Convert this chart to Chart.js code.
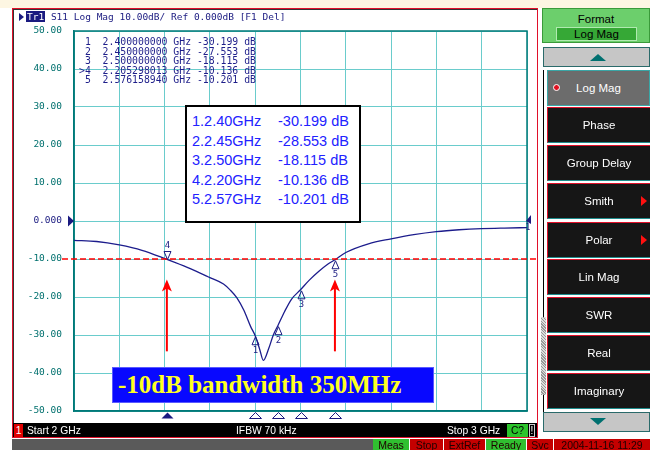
<!DOCTYPE html>
<html>
<head>
<meta charset="utf-8">
<script src="https://cdn.jsdelivr.net/npm/chart.js@4.4.1/dist/chart.umd.min.js"></script>
<style>
body{margin:0;width:650px;height:450px;overflow:hidden;background:#fff;position:relative;font-family:'Liberation Sans',Arial,sans-serif}
#topstrip{position:absolute;left:0;top:0;width:650px;height:8px;background:#fdf6e2}
#win{position:absolute;left:12px;top:8px;width:524px;height:428px;border:1px solid #e0102a;box-shadow:inset 1px 1px 0 #333;background:#fff}
#chart{position:absolute;left:0;top:0;z-index:1}
.ov{position:absolute;z-index:2}
#title{left:19px;top:11px;font:9.5px 'DejaVu Sans Mono',monospace;color:#1a1a80;line-height:12px;white-space:pre}
#title .tri{display:inline-block;width:0;height:0;border-top:4px solid transparent;border-bottom:4px solid transparent;border-left:5px solid #1a1a80;vertical-align:-1px;margin-right:2px}
#title .tr{background:#1a1a80;color:#fff;padding:0 1px}
#mlist{left:79px;top:37px;margin:0;font:9.8px 'DejaVu Sans Mono',monospace;line-height:9.6px;color:#1e1e8a}
#mtable{left:185px;top:105px;width:176px;height:118px;border:2px solid #000;box-sizing:border-box;background:#fff;font:14.5px 'Liberation Sans',Arial,sans-serif;color:#2222ff;line-height:19.5px}
#mtable div{position:absolute}
#bw{left:112px;top:367px;width:322px;height:36px;box-sizing:border-box;background:#0808ff;border:1px solid #5a5aff;color:#ffff22;font:bold 25px 'Liberation Serif','Times New Roman',serif;line-height:34px;padding-left:5px;white-space:nowrap}
#sbar{left:13px;top:423px;width:524px;height:14px;background:#000}
.st{position:absolute;z-index:3;font-size:10.3px;line-height:13px;height:13px;white-space:nowrap}
#bbar{left:12px;top:439px;width:361px;height:11px;background:#5a5a5a}
.bb{position:absolute;z-index:3;top:439px;height:11px;font-size:10.5px;line-height:12px;text-align:center;color:#200000;overflow:hidden}
.btn{position:absolute;z-index:2;left:547px;width:103px;height:36px;box-sizing:border-box;background:#161616;border-top:1px solid #e0102a;border-left:1px solid #e0102a;border-bottom:1px solid #1e8c8c;color:#fff;font-size:11.5px;line-height:34px;text-align:center}
.btn.sel{background:#6c6c6c;border:1px solid #3aa6a6}
.btn .arr{position:absolute;right:3px;top:12px;width:0;height:0;border-top:5px solid transparent;border-bottom:5px solid transparent;border-left:6px solid #ff1010}
.btn .dot{position:absolute;left:5px;top:13px;width:5px;height:5px;border-radius:50%;background:#e01020;border:1px solid #fff}
#fmt{left:542px;top:8px;width:108px;height:35px;box-sizing:border-box;background:#6ccf6c;border:1px solid #3a9a3a;font-size:11.5px;text-align:center;line-height:20px;color:#000}
#fmt div{position:absolute;left:13px;top:18px;width:81px;height:14px;box-sizing:border-box;background:#36a836;border:1px solid #b0eab0;line-height:12px}
.scr{position:absolute;z-index:2;left:543px;width:107px;height:20px;box-sizing:border-box;background:#c6c6c6;border:1px solid #2a6a6a}
.scr i{position:absolute;left:46px;width:0;height:0;border-left:8px solid transparent;border-right:8px solid transparent}
#vline{left:543px;top:70px;width:1px;height:342px;background:#000}
#sb2{left:541px;top:317px;width:5px;height:78px;background:repeating-linear-gradient(45deg,#999 0 1px,#ddd 1px 2px)}
</style>
</head>
<body>
<div id="topstrip"></div>
<div id="win"></div>
<canvas id="chart" width="650" height="450"></canvas>

<div class="ov" id="title"><span class="tri"></span><span class="tr">Tr1</span> S11 Log Mag 10.00dB/ Ref 0.000dB [F1 Del]</div>
<pre class="ov" id="mlist"></pre>
<div class="ov" id="mtable"></div>
<div class="ov" id="bw">-10dB bandwidth 350MHz</div>

<div class="ov" id="sbar"></div>
<div class="st" style="left:14px;top:424px;width:9px;background:#e00000;color:#fff;text-align:center">1</div>
<div class="st" style="left:27px;top:424px;color:#fff">Start 2 GHz</div>
<div class="st" style="left:236px;top:424px;color:#fff">IFBW 70 kHz</div>
<div class="st" style="left:447px;top:424px;color:#fff">Stop 3 GHz</div>
<div class="st" style="left:507px;top:424px;width:21px;background:#2cc42c;color:#000;text-align:center">C?</div>
<div class="st" style="left:529px;top:424px;width:6px;box-sizing:border-box;border:1px solid #ccc;color:#fff;text-align:center;font-size:10px;line-height:11px">!</div>

<div class="ov" id="bbar"></div>
<div class="bb" style="left:373px;width:36px;background:#30c030">Meas</div>
<div class="bb" style="left:410px;width:33px;background:#c40000">Stop</div>
<div class="bb" style="left:444px;width:41px;background:#c40000">ExtRef</div>
<div class="bb" style="left:486px;width:40px;background:#30c030">Ready</div>
<div class="bb" style="left:527px;width:26px;background:#c40000">Svc</div>
<div class="bb" style="left:554px;width:96px;background:#c40000">2004-11-16 11:29</div>

<div class="ov" id="fmt">Format<div>Log Mag</div></div>
<div class="scr" style="top:47px"><i style="top:6px;border-bottom:7px solid #007070"></i></div>
<div class="ov" id="vline"></div>
<div class="ov" id="sb2"></div>
<div class="btn sel" style="top:70px"><span class="dot"></span>Log Mag</div>
<div class="btn" style="top:107px">Phase</div>
<div class="btn" style="top:145px">Group Delay</div>
<div class="btn" style="top:183px">Smith<span class="arr"></span></div>
<div class="btn" style="top:222px">Polar<span class="arr"></span></div>
<div class="btn" style="top:259px">Lin Mag</div>
<div class="btn" style="top:297px">SWR</div>
<div class="btn" style="top:335px">Real</div>
<div class="btn" style="top:373px">Imaginary</div>
<div class="scr" style="top:412px"><i style="top:5px;border-top:7px solid #007070"></i></div>

<script>
// S11 trace (GHz, dB)
const freqs = [2.000, 2.050, 2.100, 2.150, 2.205, 2.250, 2.300, 2.330, 2.345, 2.360, 2.375, 2.390,
               2.400, 2.410, 2.418, 2.430, 2.440, 2.450, 2.465, 2.480, 2.500, 2.520, 2.540, 2.560,
               2.576, 2.600, 2.650, 2.700, 2.750, 2.800, 2.850, 2.900, 2.950, 3.000];
const s11 = [-5.1, -5.4, -6.3, -7.7, -10.1, -12.2, -14.9, -16.6, -18.2, -20.3, -23.5, -27.8,
             -30.2, -33.8, -36.7, -33.5, -30.0, -27.55, -23.8, -20.6, -18.1, -15.5, -13.3, -11.4,
             -10.2, -8.3, -6.0, -4.7, -3.6, -2.8, -2.3, -2.0, -1.85, -1.75];

// markers
const mkFreq = [2.4, 2.45, 2.5, 2.205298013, 2.576158940];
const mkVal = [-30.199, -27.553, -18.115, -10.136, -10.201];
const mkNum = ['1', '2', '3', '4', '5'];
const activeMk = 3;

// marker readout lines (top left) and the boxed table
const listRows = [' 1  2.400000000 GHz -30.199 dB',
                  ' 2  2.450000000 GHz -27.553 dB',
                  ' 3  2.500000000 GHz -18.115 dB',
                  '>4  2.205298013 GHz -10.136 dB',
                  ' 5  2.576158940 GHz -10.201 dB'];
const tableFreq = ['1.2.40GHz', '2.2.45GHz', '3.2.50GHz', '4.2.20GHz', '5.2.57GHz'];
const tableVal = ['-30.199 dB', '-28.553 dB', '-18.115 dB', '-10.136 dB', '-10.201 dB'];

const xMin = 2, xMax = 3, xStep = 0.1;
const yMin = -50, yMax = 50, yStep = 10;
const limitDb = -10;
const arrowFreq = [2.205, 2.576];
const arrowFrom = -34.3, arrowTo = -15.4;

document.getElementById('mlist').textContent = listRows.join('\n');
let th = '';
for (let i = 0; i < tableFreq.length; i++) {
    let top = 5 + i * 19.5;
    th += '<div style="left:5px;top:' + top + 'px">' + tableFreq[i] + '</div>';
    th += '<div style="left:91px;top:' + top + 'px">' + tableVal[i] + '</div>';
}
document.getElementById('mtable').innerHTML = th;

const navy = '#1a1a80';
const teal = '#00706e';

const overlay = {
    id: 'overlay',
    beforeDatasetsDraw(c) {
        const { ctx, chartArea: a } = c;
        ctx.save();
        ctx.strokeStyle = '#007a78';
        ctx.lineWidth = 1.5;
        ctx.strokeRect(a.left, a.top, a.right - a.left, a.bottom - a.top);
        ctx.restore();
    },
    afterDatasetsDraw(c) {
        const { ctx, chartArea: a } = c;
        const xs = c.scales.x, ys = c.scales.y;
        ctx.save();
        // -10 dB limit line
        let yl = ys.getPixelForValue(limitDb);
        ctx.strokeStyle = '#ff0000';
        ctx.lineWidth = 1.3;
        ctx.setLineDash([6, 3]);
        ctx.beginPath();
        ctx.moveTo(62, yl);
        ctx.lineTo(537, yl);
        ctx.stroke();
        ctx.setLineDash([]);

        // red arrows
        ctx.fillStyle = '#ff0000';
        ctx.lineWidth = 2;
        arrowFreq.forEach(f => {
            let x = xs.getPixelForValue(f);
            let y1 = ys.getPixelForValue(arrowFrom), y2 = ys.getPixelForValue(arrowTo);
            ctx.beginPath();
            ctx.moveTo(x, y1);
            ctx.lineTo(x, y2 + 8);
            ctx.stroke();
            ctx.beginPath();
            ctx.moveTo(x, y2);
            ctx.lineTo(x - 5, y2 + 12);
            ctx.lineTo(x, y2 + 9);
            ctx.lineTo(x + 5, y2 + 12);
            ctx.closePath();
            ctx.fill();
        });

        // markers on the trace and under the grid
        ctx.strokeStyle = navy;
        ctx.fillStyle = navy;
        ctx.lineWidth = 1;
        ctx.font = "9px 'DejaVu Sans Mono', monospace";
        ctx.textAlign = 'center';
        ctx.textBaseline = 'middle';
        for (let i = 0; i < mkFreq.length; i++) {
            let x = Math.round(xs.getPixelForValue(mkFreq[i])) + 0.5;
            let y = ys.getPixelForValue(mkVal[i]);
            ctx.beginPath();
            if (i === activeMk) {
                ctx.moveTo(x, y);
                ctx.lineTo(x - 3.5, y - 8);
                ctx.lineTo(x + 3.5, y - 8);
                ctx.closePath();
                ctx.stroke();
                ctx.fillText(mkNum[i], x, y - 14);
            } else {
                ctx.moveTo(x, y + 1);
                ctx.lineTo(x - 3.5, y + 9);
                ctx.lineTo(x + 3.5, y + 9);
                ctx.closePath();
                ctx.stroke();
                ctx.fillText(mkNum[i], x, y + 15);
            }
            // bottom indicator
            ctx.beginPath();
            ctx.moveTo(x, a.bottom + 1.5);
            ctx.lineTo(x - 6, a.bottom + 7.5);
            ctx.lineTo(x + 6, a.bottom + 7.5);
            ctx.closePath();
            if (i === activeMk) ctx.fill(); else ctx.stroke();
        }

        // reference level pointers
        let y0 = ys.getPixelForValue(0);
        ctx.beginPath();
        ctx.moveTo(a.left, y0);
        ctx.lineTo(a.left - 6, y0 - 5.5);
        ctx.lineTo(a.left - 6, y0 + 5.5);
        ctx.closePath();
        ctx.fill();
        ctx.beginPath();
        ctx.moveTo(a.right - 1, y0);
        ctx.lineTo(a.right + 4, y0 - 6);
        ctx.lineTo(a.right + 4, y0 + 3);
        ctx.closePath();
        ctx.fill();
        ctx.font = "8px 'DejaVu Sans Mono', monospace";
        ctx.fillText('1', a.right + 1, y0 + 7);
        ctx.restore();
    }
};

const points = freqs.map((f, i) => ({ x: f, y: s11[i] }));

new Chart('chart', {
    type: 'line',
    data: {
        datasets: [{
            data: points,
            borderColor: '#1c1c8c',
            borderWidth: 1.3,
            pointRadius: 0,
            cubicInterpolationMode: 'monotone',
            fill: false
        }]
    },
    options: {
        responsive: false,
        animation: false,
        devicePixelRatio: 1,
        layout: { padding: { left: 0, top: 31, right: 123, bottom: 39 } },
        plugins: { legend: { display: false }, tooltip: { enabled: false } },
        scales: {
            x: {
                type: 'linear',
                min: xMin, max: xMax,
                ticks: { display: false, stepSize: xStep },
                grid: { color: '#6acccc', lineWidth: 1, drawTicks: false },
                border: { color: '#007a78', width: 1.5 },
                afterFit: s => { s.height = 0; }
            },
            y: {
                min: yMin, max: yMax,
                ticks: {
                    stepSize: yStep,
                    padding: 12,
                    font: { family: "'DejaVu Sans Mono', monospace", size: 9.5 },
                    color: ctx => ctx.tick.value === 0 ? navy : teal,
                    callback: v => v === 0 ? '0.000' : v.toFixed(2)
                },
                grid: { color: '#6acccc', lineWidth: 1, drawTicks: false },
                border: { color: '#007a78', width: 1.5 },
                afterFit: s => { s.width = 74; }
            }
        }
    },
    plugins: [overlay]
});
</script>
</body>
</html>
